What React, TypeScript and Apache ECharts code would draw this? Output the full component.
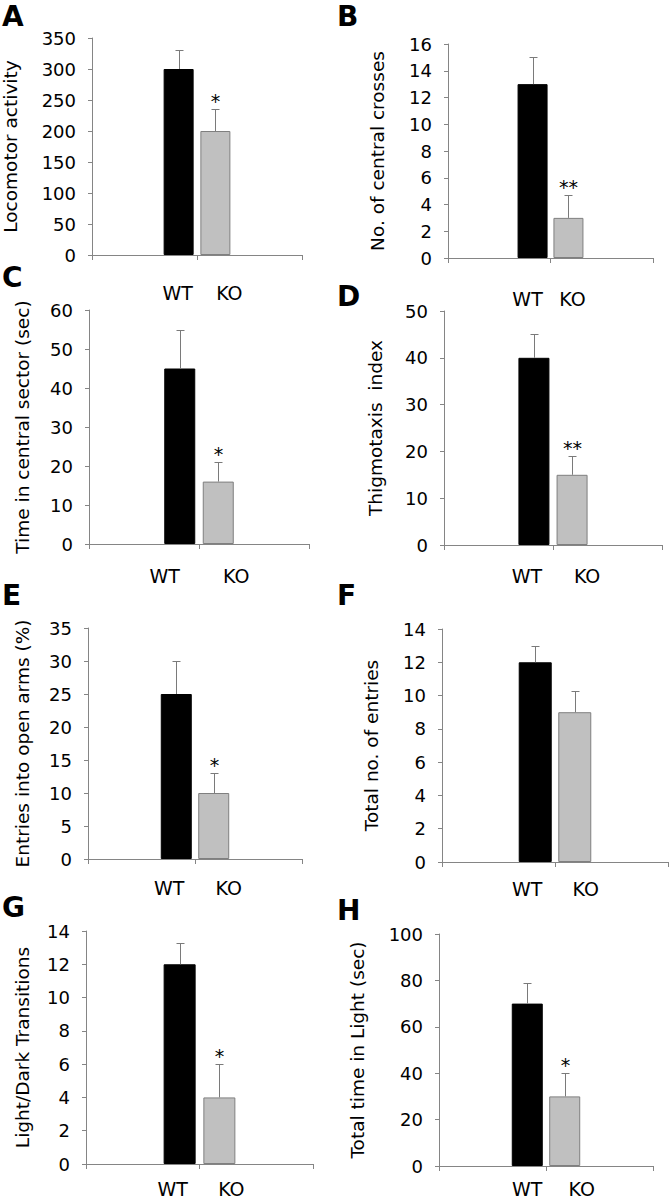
import React, { useEffect, useRef } from "react";
import * as echarts from "echarts";

// ---- data ----
const groups = ["WT", "KO"];
const panelLetters = ["A", "B", "C", "D", "E", "F", "G", "H"];
const yTitles = [
  "Locomotor activity",
  "No. of central crosses",
  "Time in central sector (sec)",
  "Thigmotaxis  index",
  "Entries into open arms (%)",
  "Total no. of entries",
  "Light/Dark Transitions",
  "Total time in Light (sec)",
];
const wtMeans = [300, 13, 45, 40, 25, 12, 12, 70];
const koMeans = [200, 3, 16, 15, 10, 9, 4, 30];
const wtErrors = [30, 2, 10, 5, 5, 1, 1.3, 9];
const koErrors = [35, 1.7, 5, 4, 3, 1.3, 2, 10];
const koSignif = ["*", "**", "*", "**", "*", "", "*", "*"];
const yMax = [350, 16, 60, 50, 35, 14, 14, 100];
const yStep = [50, 2, 10, 10, 5, 2, 2, 20];

// ---- layout (pixels) ----
const layouts = [
  { left: 91, top: 38, width: 211, height: 217, lx: 2, ly: 16, gap: 72, bw: 30, dist: 28, dx: [-1, 14] },
  { left: 448, top: 44, width: 205, height: 214, lx: 337, ly: 16, gap: 61, bw: 30, dist: 31, dx: [-5, 4] },
  { left: 89, top: 310, width: 220, height: 234, lx: 2, ly: 277, gap: 57, bw: 31, dist: 22, dx: [-15, 18] },
  { left: 444, top: 311, width: 218, height: 234, lx: 337, ly: 296, gap: 59, bw: 31, dist: 21, dx: [-7, 15] },
  { left: 88, top: 628, width: 214, height: 231, lx: 2, ly: 595, gap: 56, bw: 31, dist: 19, dx: [-7, 15] },
  { left: 442, top: 629, width: 226, height: 233, lx: 337, ly: 595, gap: 61, bw: 33, dist: 17, dx: [-8, 11] },
  { left: 86, top: 931, width: 227, height: 233, lx: 2, ly: 907, gap: 54, bw: 32, dist: 15, dx: [-7, 12] },
  { left: 439, top: 934, width: 214, height: 232, lx: 337, ly: 910, gap: 72, bw: 31, dist: 13, dx: [0, 17] },
];
const barOffset = 0.175; // position of each bar relative to the central tick (axis units)

const FONT = '"DejaVu Sans", Verdana, sans-serif';
const AXIS_COLOR = "#858585";
const ERR_COLOR = "#7a7a7a";

export default function App() {
  const ref = useRef<HTMLDivElement>(null);

  useEffect(() => {
    if (!ref.current) return;
    const chart = echarts.init(ref.current, undefined, { renderer: "svg" });

    const grid = layouts.map((l) => ({ left: l.left, top: l.top, width: l.width, height: l.height }));
    const xAxis = layouts.map((_, i) => ({
      type: "value",
      gridIndex: i,
      min: 0,
      max: 2,
      interval: 1,
      axisLine: { show: true, lineStyle: { color: AXIS_COLOR, width: 1 } },
      axisTick: { show: true, length: 5, lineStyle: { color: AXIS_COLOR } },
      axisLabel: { show: false },
      splitLine: { show: false },
    }));
    const yAxis = layouts.map((l, i) => ({
      type: "value",
      gridIndex: i,
      min: 0,
      max: yMax[i],
      interval: yStep[i],
      axisLine: { show: true, lineStyle: { color: AXIS_COLOR, width: 1 } },
      axisTick: { show: true, length: 4, lineStyle: { color: AXIS_COLOR } },
      axisLabel: { fontSize: 18, color: "#000", fontFamily: FONT, margin: 16 },
      splitLine: { show: false },
      name: yTitles[i],
      nameLocation: "middle",
      nameRotate: 90,
      nameGap: l.gap,
      nameTextStyle: { fontSize: 18.5, color: "#000", fontFamily: FONT },
    }));

    const series: any[] = [];
    layouts.forEach((l, i) => {
      const xs = [1 - barOffset, 1 + barOffset];
      const means = [wtMeans[i], koMeans[i]];
      const errs = [wtErrors[i], koErrors[i]];
      const sigs = ["", koSignif[i]];
      series.push({
        type: "bar",
        xAxisIndex: i,
        yAxisIndex: i,
        barWidth: l.bw,
        label: {
          show: true,
          position: "bottom",
          distance: l.dist,
          formatter: "{b}",
          fontSize: 19,
          color: "#000",
          fontFamily: FONT,
        },
        data: groups.map((g, k) => ({
          name: g,
          value: [xs[k], means[k]],
          itemStyle:
            k === 0
              ? { color: "#000000", borderColor: "#000000", borderWidth: 1 }
              : { color: "#c0c0c0", borderColor: "#7f7f7f", borderWidth: 1 },
          label: { offset: [l.dx[k], 0] },
        })),
      });
      series.push({
        type: "custom",
        xAxisIndex: i,
        yAxisIndex: i,
        z: 5,
        data: groups.map((_, k) => [xs[k], means[k], errs[k]]),
        renderItem: (params: any, api: any) => {
          const x = api.value(0);
          const m = api.value(1);
          const e = api.value(2);
          const p0 = api.coord([x, m]);
          const p1 = api.coord([x, m + e]);
          const cx = Math.round(p0[0]) + 0.5;
          const ty = Math.round(p1[1]) + 0.5;
          const children: any[] = [
            { type: "line", shape: { x1: cx, y1: p0[1], x2: cx, y2: ty }, style: { stroke: ERR_COLOR, lineWidth: 1 } },
            { type: "line", shape: { x1: cx - 4, y1: ty, x2: cx + 4, y2: ty }, style: { stroke: ERR_COLOR, lineWidth: 1 } },
          ];
          const s = sigs[params.dataIndex];
          if (s) {
            children.push({
              type: "text",
              x: cx,
              y: ty + 1,
              style: { text: s, align: "center", verticalAlign: "bottom", fontSize: 19, fontFamily: FONT, fill: "#000" },
            });
          }
          return { type: "group", children };
        },
      });
    });

    const graphic = layouts.map((l, i) => ({
      type: "text",
      x: l.lx,
      y: l.ly,
      style: {
        text: panelLetters[i],
        fontSize: 28,
        fontWeight: "bold",
        fontFamily: FONT,
        fill: "#000",
        align: "left",
        verticalAlign: "middle",
      },
    }));

    chart.setOption({
      animation: false,
      backgroundColor: "#ffffff",
      textStyle: { fontFamily: FONT },
      grid,
      xAxis,
      yAxis,
      series,
      graphic,
    } as any);

    return () => chart.dispose();
  }, []);

  return (
    <div
      ref={ref}
      style={{ position: "absolute", left: 0, top: 0, width: 670, height: 1200, background: "#fff" }}
    />
  );
}
